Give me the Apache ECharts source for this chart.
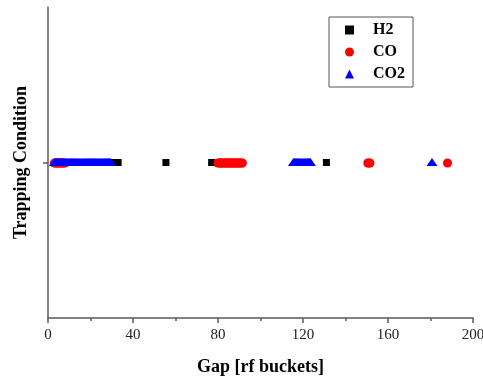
<!DOCTYPE html>
<html>
<head>
<meta charset="utf-8">
<script src="https://cdn.jsdelivr.net/npm/echarts@6/dist/echarts.min.js"></script>
<style>
  html, body { margin: 0; padding: 0; background: #fff; }
  #chart { width: 483px; height: 380px; }
</style>
</head>
<body>
<div id="chart"></div>
<script>
// gap values (rf buckets) where each gas is trapped
const h2Gaps = [4, 9, 16, 23, 28, 30, 33, 55.5, 77, 131]
const coGaps = [
  3, 3.5, 4, 4.5, 5, 5.5, 6, 6.5, 7, 7.5, 8,
  80, 80.5, 81, 81.5, 82, 82.5, 83, 83.5, 84, 84.5, 85, 85.5,
  86, 86.5, 87, 87.5, 88, 88.5, 89, 89.5, 90, 90.5, 91, 91.5,
  150.5, 151, 151.5,
  188
]
const co2Gaps = [
  3, 3.5, 4, 4.5, 5, 5.5, 6, 6.5, 7, 7.5, 8, 8.5, 9, 9.5, 10, 10.5,
  11, 11.5, 12, 12.5, 13, 13.5, 14, 14.5, 15, 15.5, 16, 16.5, 17, 17.5,
  18, 18.5, 19, 19.5, 20, 20.5, 21, 21.5, 22, 22.5, 23, 23.5, 24, 24.5,
  25, 25.5, 26, 26.5, 27, 27.5, 28, 28.5, 29, 29.5,
  115.5, 116, 116.5, 117, 117.5, 118, 118.5, 119, 119.5, 120, 120.5,
  121, 121.5, 122, 122.5, 123, 123.5,
  180.7
]
const trappedLevel = 1
const xTicks = [0, 40, 80, 120, 160, 200]

const serif = 'Liberation Serif, Times New Roman, serif'
const axisColor = '#5a5a5a'
const toPoints = (gaps) => gaps.map((g) => [g, trappedLevel])

const chart = echarts.init(document.getElementById('chart'), null, { renderer: 'canvas' })

chart.setOption({
  animation: false,
  grid: { left: 48, right: 10, top: 7, bottom: 62, outerBoundsMode: 'none' },
  legend: {
    orient: 'vertical',
    left: 329,
    top: 17,
    padding: [5, 8, 5, 16],
    itemWidth: 9,
    itemHeight: 9,
    itemGap: 6,
    borderColor: '#555',
    borderWidth: 1,
    textStyle: { fontFamily: serif, fontWeight: 'bold', fontSize: 16, color: '#000', padding: [0, 0, 0, 14], lineHeight: 16 },
    data: ['H2', 'CO', 'CO2']
  },
  xAxis: {
    type: 'value',
    min: xTicks[0],
    max: xTicks[xTicks.length - 1],
    interval: 40,
    name: 'Gap [rf buckets]',
    nameLocation: 'middle',
    nameGap: 40,
    nameTextStyle: { fontFamily: serif, fontWeight: 'bold', fontSize: 18, color: '#000' },
    axisLine: { lineStyle: { color: axisColor, width: 1.5 } },
    axisTick: { inside: false, length: 5, lineStyle: { color: axisColor, width: 1.5 } },
    minorTick: { show: true, splitNumber: 2, length: 3, lineStyle: { color: axisColor, width: 1.5 } },
    axisLabel: { fontFamily: serif, fontSize: 15, color: '#222', margin: 10 },
    splitLine: { show: false }
  },
  yAxis: {
    type: 'value',
    min: 0,
    max: 2,
    name: 'Trapping Condition',
    nameLocation: 'middle',
    nameGap: 18,
    nameTextStyle: { fontFamily: serif, fontWeight: 'bold', fontSize: 18, color: '#000' },
    axisLine: { show: true, lineStyle: { color: axisColor, width: 1.5 } },
    axisTick: { show: true, length: 5, customValues: [trappedLevel], lineStyle: { color: axisColor, width: 1.5 } },
    axisLabel: { show: false },
    splitLine: { show: false }
  },
  series: [
    {
      name: 'H2',
      type: 'scatter',
      symbol: 'rect',
      symbolSize: 7,
      itemStyle: { color: '#000', opacity: 1 },
      data: toPoints(h2Gaps)
    },
    {
      name: 'CO',
      type: 'scatter',
      symbol: 'circle',
      symbolSize: 9,
      symbolOffset: [0, 0.5],
      itemStyle: { color: '#ff0000', opacity: 1 },
      data: toPoints(coGaps)
    },
    {
      name: 'CO2',
      type: 'scatter',
      symbol: 'triangle',
      symbolSize: [11, 8],
      symbolOffset: [0, -0.5],
      itemStyle: { color: '#0000ff', opacity: 1 },
      data: toPoints(co2Gaps)
    }
  ]
})
</script>
</body>
</html>
